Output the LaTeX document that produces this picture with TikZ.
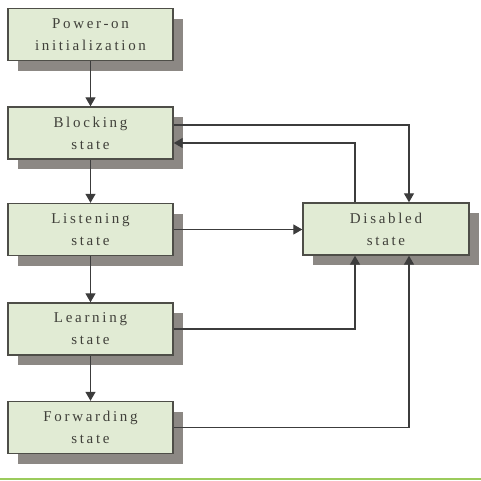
\documentclass[tikz,border=0pt]{standalone}
\usepackage{fontspec}
\setmainfont{Liberation Serif}[LetterSpace=18]
\usetikzlibrary{arrows.meta,shadows}
\definecolor{boxfill}{HTML}{E1EBD4}
\definecolor{boxline}{HTML}{4E4E48}
\definecolor{shadowc}{HTML}{8C8884}
\definecolor{txt}{HTML}{40403A}
\definecolor{conn}{HTML}{3C3C3C}
\definecolor{greenline}{HTML}{9BCB5C}
\begin{document}
\begin{tikzpicture}[x=1pt,y=-1pt,
  statebox/.style={draw=boxline, line width=1.4pt, fill=boxfill,
    minimum width=165pt, minimum height=52pt, inner sep=0pt,
    align=center, font=\fontsize{15}{22}\selectfont, text=txt,
    general shadow={fill=shadowc, shadow xshift=10pt, shadow yshift=-10pt}},
  conline/.style={draw=conn, line width=1.3pt, -{Triangle[width=10pt,length=9pt]}}]
\useasboundingbox (0,0) rectangle (481,480);
\node[statebox] (b1) at (90.5,34.5) {Power-on\\initialization};
\node[statebox] (b2) at (90.5,133) {Blocking\\state};
\node[statebox] (b3) at (90.5,229.5) {Listening\\state};
\node[statebox] (b4) at (90.5,329) {Learning\\state};
\node[statebox] (b5) at (90.5,427.5) {Forwarding\\state};
\node[statebox, minimum width=166pt] (dis) at (386,229) {Disabled\\state};
\draw[conline] (b1.south) -- (b2.north);
\draw[conline] (b2.south) -- (b3.north);
\draw[conline] (b3.south) -- (b4.north);
\draw[conline] (b4.south) -- (b5.north);
\draw[conline] ([yshift=8pt]b2.east) -| ([xshift=23pt]dis.north);
\draw[conline] ([xshift=-31pt]dis.north) |- ([yshift=-10pt]b2.east);
\draw[conline] (b3.east) -- (b3.east -| dis.west);
\draw[conline] (b4.east) -| ([xshift=-31pt]dis.south);
\draw[conline] (b5.east) -| ([xshift=23pt]dis.south);
\fill[greenline] (0,477.5) rectangle (481,480);
\end{tikzpicture}
\end{document}
